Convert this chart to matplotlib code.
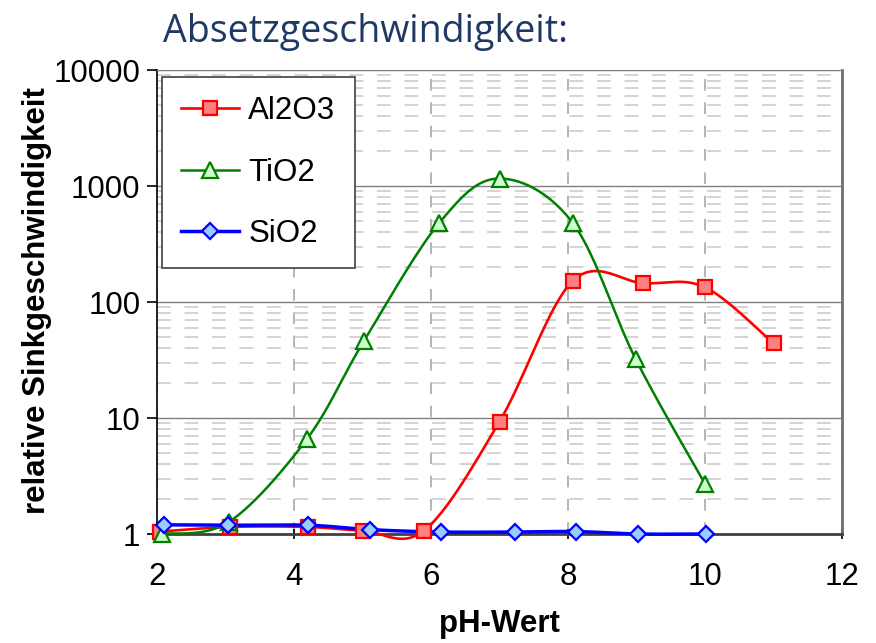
import numpy as np
import matplotlib
matplotlib.use("Agg")
import matplotlib.pyplot as plt
from matplotlib.ticker import FixedLocator, NullFormatter

# =========================
# Data
# =========================
AL_X = [2.05, 3.07, 4.2, 5.0, 5.9, 7.0, 8.07, 9.1, 10.0, 11.0]
AL_Y = [1.05, 1.15, 1.15, 1.07, 1.07, 9.3, 152, 145, 134, 44]

TI_X = [2.07, 3.05, 4.19, 5.02, 6.12, 7.0, 8.07, 8.99, 10.0]
TI_Y = [1.0, 1.27, 6.6, 46, 480, 1160, 480, 32, 2.7]

SI_X = [2.1, 3.03, 4.21, 5.11, 6.14, 7.23, 8.11, 9.02, 10.01]
SI_Y = [1.2, 1.19, 1.19, 1.09, 1.04, 1.04, 1.05, 1.0, 1.0]

X_TICKS = [2, 4, 6, 8, 10, 12]
Y_TICKS = [1, 10, 100, 1000, 10000]
Y_TICK_LABELS = ["1", "10", "100", "1000", "10000"]

FS = 22.5


def smooth(xs, ys, n=30):
    # Excel-like smoothed line: Catmull-Rom through the points in (x, log y)
    p = np.column_stack([xs, np.log10(ys)])
    p = np.vstack([p[0], p, p[-1]])
    out = []
    for i in range(1, len(p) - 2):
        p0, p1, p2, p3 = p[i - 1], p[i], p[i + 1], p[i + 2]
        t = np.linspace(0, 1, n)[:, None]
        seg = 0.5 * ((2 * p1) + (-p0 + p2) * t + (2 * p0 - 5 * p1 + 4 * p2 - p3) * t ** 2
                     + (-p0 + 3 * p1 - 3 * p2 + p3) * t ** 3)
        out.append(seg)
    out = np.vstack(out)
    return out[:, 0], 10 ** out[:, 1]


fig = plt.figure(figsize=(8.76, 6.43), dpi=100)
ax = fig.add_axes([157 / 876, 1 - 534 / 643, (842 - 157) / 876, (534 - 70) / 643])

ax.set_yscale("log")
ax.set_xlim(2, 12)
ax.set_ylim(1, 10000)

# grid
ax.yaxis.set_minor_locator(FixedLocator([m * 10 ** e for e in range(0, 4) for m in range(2, 10)]))
ax.yaxis.set_minor_formatter(NullFormatter())
ax.grid(which="minor", axis="y", color="#c8c8c8", lw=1.1, ls=(0, (9, 9)))
ax.grid(which="major", axis="y", color="#808080", lw=1.0, ls="-")
ax.grid(which="major", axis="x", color="#a8a8a8", lw=1.2, ls=(0, (7, 7)))
ax.set_axisbelow(True)

series = [
    (AL_X, AL_Y, "Al2O3", "#ff0000", "s", "#ff8080", 9.5, 1.9),
    (TI_X, TI_Y, "TiO2", "#008000", "^", "#ccffcc", 12, 1.8),
    (SI_X, SI_Y, "SiO2", "#0000ff", "D", "#99ccff", 8.5, 2.5),
]
for xs, ys, name, col, mk, fc, ms, lw in series:
    sx, sy = smooth(xs, ys)
    ax.plot(sx, sy, color=col, lw=lw, clip_on=False, zorder=3)
    ax.plot(xs, ys, ls="none", marker=mk, ms=ms, mfc=fc, mec=col, mew=1.6,
            clip_on=False, zorder=4)
    # legend proxy
    ax.plot([], [], color=col, lw=lw, marker=mk, ms=ms, mfc=fc, mec=col, mew=1.6, label=name)

ax.set_xticks(X_TICKS)
ax.set_yticks(Y_TICKS)
ax.set_yticklabels(Y_TICK_LABELS)
ax.tick_params(axis="both", which="major", labelsize=FS, colors="black", length=7, width=1.2)
ax.tick_params(axis="x", direction="inout", pad=17)
ax.tick_params(axis="y", direction="out", pad=5)
ax.tick_params(which="minor", length=0)
for lab in ax.get_xticklabels() + ax.get_yticklabels():
    lab.set_fontfamily("Liberation Sans")

ax.spines["left"].set_color("black")
ax.spines["left"].set_linewidth(1.2)
ax.spines["bottom"].set_color("#404040")
ax.spines["bottom"].set_linewidth(2.0)
ax.spines["top"].set_color("#808080")
ax.spines["right"].set_color("#707070")
ax.spines["right"].set_linewidth(2.0)

leg = ax.legend(loc="upper left", bbox_to_anchor=(0.007, 0.985), borderaxespad=0,
                fancybox=False, prop={"family": "Liberation Sans", "size": FS},
                labelspacing=1.0, handlelength=1.85, handletextpad=0.3, borderpad=0.62,
                framealpha=1)
leg.get_frame().set_edgecolor("#404040")
leg.get_frame().set_linewidth(1.2)

fig.text(163 / 876, 1 - 42 / 643, "Absetzgeschwindigkeit:", fontsize=27, color="#1f3864",
         family="Open Sans", va="baseline", ha="left")
fig.text(37 / 876, 1 - 301 / 643, "relative Sinkgeschwindigkeit", rotation=90, fontsize=FS,
         fontweight="bold", family="Liberation Sans", va="center", ha="center")
fig.text(499 / 876, 1 - 632 / 643, "pH-Wert", fontsize=FS, fontweight="bold",
         family="Liberation Sans", va="baseline", ha="center")

fig.savefig("out.png", dpi=100)
